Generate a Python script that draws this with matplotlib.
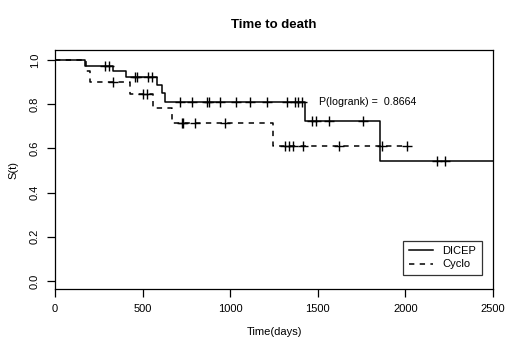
import matplotlib
matplotlib.use("Agg")
import matplotlib.pyplot as plt

plt.rcParams['font.family'] = ['Liberation Sans', 'DejaVu Sans']

# DICEP arm: step times and survival
dicep_t = [0, 171, 333, 405, 580, 609, 628, 1427, 1855, 2500]
dicep_s = [1.0, 0.975, 0.95, 0.925, 0.887, 0.85, 0.81, 0.724, 0.543, 0.543]
dicep_cens = [285, 310, 457, 470, 533, 552, 713, 780, 870, 876, 942, 1033,
              1113, 1212, 1326, 1370, 1389, 1408, 1465, 1488, 1566, 1760,
              2178, 2226]

# Cyclo arm
cyclo_t = [0, 175, 200, 428, 561, 666, 1246, 2010]
cyclo_s = [1.0, 0.95, 0.90, 0.846, 0.781, 0.716, 0.611, 0.611]
cyclo_cens = [333, 504, 527, 723, 732, 799, 970, 1313, 1337, 1360, 1417,
              1623, 1865, 2007]

xticks = [0, 500, 1000, 1500, 2000, 2500]
yticks = [0.0, 0.2, 0.4, 0.6, 0.8, 1.0]


def surv_at(ts, ss, x):
    val = ss[0]
    for t, s in zip(ts, ss):
        if t <= x:
            val = s
    return val


fig = plt.figure(figsize=(5.2, 3.46), dpi=100)
ax = fig.add_axes([0.106, 0.165, 0.842, 0.69])

ax.step(dicep_t, dicep_s, where='post', color='black', lw=1.1, label='DICEP')
ax.step(cyclo_t, cyclo_s, where='post', color='black', lw=1.1,
        linestyle=(0, (3.5, 3.5)), label='Cyclo')

ax.plot(dicep_cens, [surv_at(dicep_t, dicep_s, c) for c in dicep_cens],
        linestyle='none', marker='+', ms=7, mew=1.0, color='black')
ax.plot(cyclo_cens, [surv_at(cyclo_t, cyclo_s, c) for c in cyclo_cens],
        linestyle='none', marker='+', ms=7, mew=1.0, color='black')

ax.text(1505, 0.81, 'P(logrank) =  0.8664', fontsize=7.7, va='center',
        ha='left')

ax.set_xlim(0, 2500)
ax.set_ylim(-0.036, 1.045)
ax.set_xticks(xticks)
ax.set_yticks(yticks)
ax.set_yticklabels([f'{v:.1f}' for v in yticks], rotation=90, va='center')
ax.tick_params(labelsize=8, length=6, width=0.9, direction='out', pad=5)
for sp in ax.spines.values():
    sp.set_linewidth(0.9)

ax.set_xlabel('Time(days)', fontsize=8, labelpad=9)
ax.set_ylabel('S(t)', fontsize=8, labelpad=8)
ax.set_title('Time to death', fontsize=9.5, fontweight='bold', pad=16)

leg = ax.legend(loc='lower right', fontsize=8, frameon=True, fancybox=False,
                edgecolor='black', handlelength=2.2, borderpad=0.5,
                labelspacing=0.3, bbox_to_anchor=(0.987, 0.035))
leg.get_frame().set_linewidth(0.9)

fig.savefig('out.png', dpi=100)
